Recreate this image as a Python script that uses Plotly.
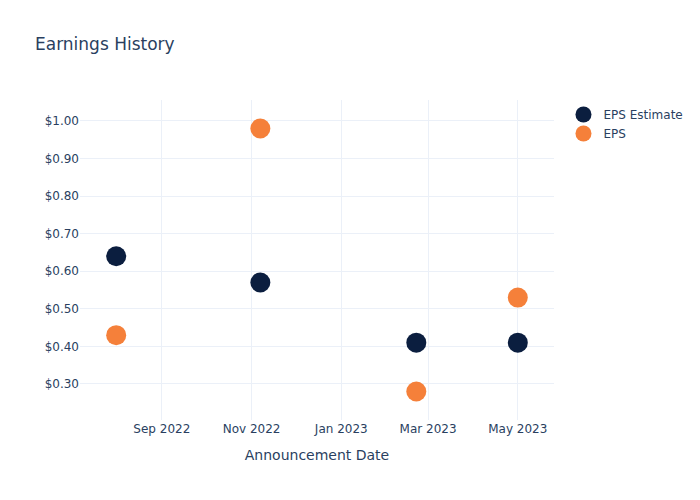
import plotly.graph_objects as go

dates = ["2022-08-01", "2022-11-07", "2023-02-21", "2023-05-01"]
eps_estimate = [0.64, 0.57, 0.41, 0.41]
eps_actual = [0.43, 0.98, 0.28, 0.53]

fig = go.Figure()
fig.add_trace(go.Scatter(x=dates, y=eps_estimate, mode="markers", name="EPS Estimate",
                         marker=dict(color="#0b1e3f", size=20)))
fig.add_trace(go.Scatter(x=dates, y=eps_actual, mode="markers", name="EPS",
                         marker=dict(color="#f5803a", size=20)))
fig.update_layout(
    template="plotly_white",
    width=700, height=500,
    title=dict(text="Earnings History"),
    xaxis=dict(title=dict(text="Announcement Date")),
    yaxis=dict(tickformat="$.2f"),
    font=dict(family="DejaVu Sans"),
)
fig.write_html("out.html")
